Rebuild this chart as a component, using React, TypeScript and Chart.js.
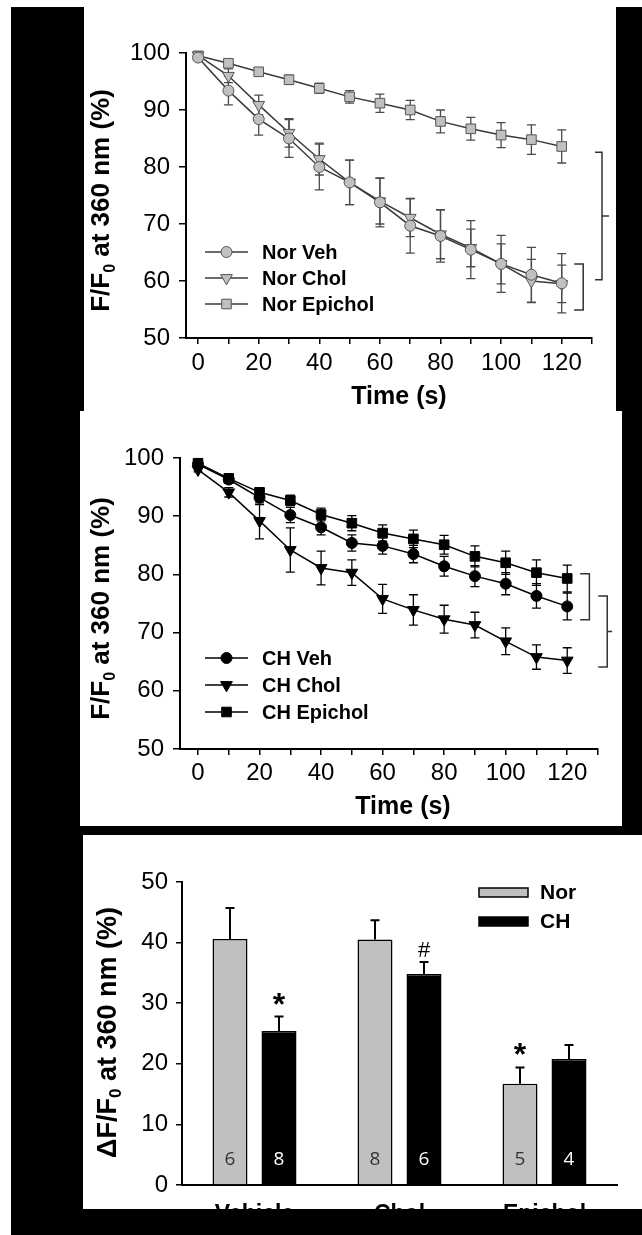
import React, { useEffect, useRef } from "react";
import { Chart, registerables } from "chart.js";

Chart.register(...registerables);

const FONT = "'Liberation Sans', Arial, Helvetica, sans-serif";

// ---------- data ----------
const timeSeconds = [0, 10, 20, 30, 40, 50, 60, 70, 80, 90, 100, 110, 120];
const xTickValues = [0, 10, 20, 30, 40, 50, 60, 70, 80, 90, 100, 110, 120, 130];
const xTickLabels = [0, 20, 40, 60, 80, 100, 120];
const lineYTicks = [50, 60, 70, 80, 90, 100];

const norVeh = [99.2, 93.4, 88.4, 85.0, 80.0, 77.3, 73.8, 69.7, 67.9, 65.5, 63.0, 61.1, 59.6];
const norVehSem = [0.3, 2.5, 2.8, 3.3, 4.0, 3.9, 4.3, 4.8, 4.6, 5.1, 5.0, 4.8, 5.2];
const norChol = [99.6, 96.0, 90.9, 86.0, 81.4, 77.3, 74.0, 71.1, 68.2, 65.8, 63.0, 60.0, 59.5];
const norCholSem = [0.3, 1.2, 1.7, 2.5, 2.8, 3.9, 4.0, 3.3, 4.3, 3.3, 3.5, 3.8, 3.3];
const norEpichol = [99.5, 98.2, 96.7, 95.3, 93.8, 92.3, 91.2, 90.0, 88.0, 86.7, 85.6, 84.8, 83.6];
const norEpicholSem = [0.3, 0.5, 0.6, 0.8, 0.9, 1.1, 1.6, 1.7, 2.0, 2.0, 2.2, 2.6, 2.9];

const chVeh = [98.9, 96.3, 93.2, 90.2, 88.1, 85.4, 84.9, 83.5, 81.4, 79.7, 78.4, 76.3, 74.5];
const chVehSem = [0.4, 0.6, 1.2, 1.3, 1.3, 1.4, 1.4, 1.5, 1.7, 1.8, 1.9, 2.1, 2.3];
const chChol = [98.0, 94.1, 89.2, 84.2, 81.1, 80.3, 75.8, 73.9, 72.3, 71.3, 68.5, 65.8, 65.2];
const chCholSem = [0.4, 0.8, 3.1, 3.8, 2.9, 2.2, 2.5, 2.6, 2.4, 2.2, 2.3, 2.1, 2.2];
const chEpichol = [99.1, 96.5, 94.1, 92.7, 90.3, 88.8, 87.1, 86.1, 85.1, 83.1, 82.0, 80.3, 79.3];
const chEpicholSem = [0.3, 0.5, 0.7, 0.9, 1.1, 1.3, 1.4, 1.5, 1.6, 1.8, 2.0, 2.2, 2.3];

// brackets in data coordinates: arms from x1 to x2, vertical at x2 from y1 to y2, optional mid tick to tickTo
const norBrackets = [
  { x1: 124.1, x2: 127.1, y1: 63.0, y2: 54.9, tickTo: 0 },
  { x1: 131.0, x2: 133.3, y1: 82.6, y2: 60.2, tickTo: 135.6 },
];
const chBrackets = [
  { x1: 124.2, x2: 127.2, y1: 80.1, y2: 72.2, tickTo: 0 },
  { x1: 130.1, x2: 133.0, y1: 76.3, y2: 64.1, tickTo: 134.6 },
];

const barCategories = ["Vehicle", "Chol", "Epichol"];
const barYTicks = [0, 10, 20, 30, 40, 50];
const barNor = [40.6, 40.5, 16.7];
const barNorSem = [5.1, 3.2, 2.7];
const barCH = [25.4, 34.8, 20.8];
const barCHSem = [2.4, 2.0, 2.3];
const barNorN = [6, 8, 5];
const barCHN = [8, 6, 4];
const barMarks = [
  { series: 1, index: 0, text: "*" },
  { series: 1, index: 1, text: "#" },
  { series: 0, index: 2, text: "*" },
];

const yTitleLine = [{ t: "F/F" }, { t: "0", sub: true }, { t: " at 360 nm (%)" }];
const yTitleBar = [{ t: "\u0394F/F" }, { t: "0", sub: true }, { t: " at 360 nm (%)" }];

// ---------- drawing helpers ----------
function drawMarker(ctx: CanvasRenderingContext2D, style: string, x: number, y: number, r: number) {
  ctx.beginPath();
  if (style === "circle") {
    ctx.arc(x, y, r, 0, Math.PI * 2);
  } else if (style === "rect") {
    const s = r * Math.SQRT1_2;
    ctx.rect(x - s, y - s, 2 * s, 2 * s);
  } else {
    let a = Math.PI;
    ctx.moveTo(x + Math.sin(a) * r, y - Math.cos(a) * r);
    a += (2 * Math.PI) / 3;
    ctx.lineTo(x + Math.sin(a) * r, y - Math.cos(a) * r);
    a += (2 * Math.PI) / 3;
    ctx.lineTo(x + Math.sin(a) * r, y - Math.cos(a) * r);
    ctx.closePath();
  }
  ctx.fill();
  ctx.stroke();
}

function drawRotatedTitle(ctx: CanvasRenderingContext2D, parts: any[], cx: number, cy: number, size: number) {
  ctx.save();
  ctx.translate(cx, cy);
  ctx.rotate(-Math.PI / 2);
  ctx.fillStyle = "#000";
  ctx.textBaseline = "alphabetic";
  ctx.textAlign = "left";
  const mainFont = `bold ${size}px ${FONT}`;
  const subFont = `bold ${Math.round(size * 0.62)}px ${FONT}`;
  let total = 0;
  const widths = parts.map((p) => {
    ctx.font = p.sub ? subFont : mainFont;
    const w = ctx.measureText(p.t).width;
    total += w;
    return w;
  });
  let x = -total / 2;
  const base = size * 0.36;
  parts.forEach((p, i) => {
    ctx.font = p.sub ? subFont : mainFont;
    ctx.fillText(p.t, x, p.sub ? base + size * 0.2 : base);
    x += widths[i];
  });
  ctx.restore();
}

const markerRadius: any = { circle: 5.5, rect: 6.8, triangleDown: 6.8 };

function makeLineConfig(L: any) {
  const errorBars = {
    id: "errorBars",
    beforeDatasetsDraw(chart: any) {
      const { ctx } = chart;
      const ys = chart.scales.y;
      chart.data.datasets.forEach((ds: any, di: number) => {
        const meta = chart.getDatasetMeta(di);
        ctx.save();
        ctx.strokeStyle = L.errorColor;
        ctx.lineWidth = 1.3;
        meta.data.forEach((el: any, i: number) => {
          const v = ds.data[i].y;
          const e = ds.errors[i];
          const yt = ys.getPixelForValue(v + e);
          const yb = ys.getPixelForValue(v - e);
          ctx.beginPath();
          ctx.moveTo(el.x, yt);
          ctx.lineTo(el.x, yb);
          ctx.moveTo(el.x - 4.5, yt);
          ctx.lineTo(el.x + 4.5, yt);
          ctx.moveTo(el.x - 4.5, yb);
          ctx.lineTo(el.x + 4.5, yb);
          ctx.stroke();
        });
        ctx.restore();
      });
    },
  };
  const extras = {
    id: "extras",
    afterDraw(chart: any) {
      const { ctx, chartArea } = chart;
      const xs = chart.scales.x;
      const ys = chart.scales.y;
      // axis titles
      drawRotatedTitle(ctx, yTitleLine, L.yTitleX, (chartArea.top + chartArea.bottom) / 2 + L.yTitleDy, 26);
      ctx.save();
      ctx.font = `bold 25px ${FONT}`;
      ctx.fillStyle = "#000";
      ctx.textAlign = "center";
      ctx.textBaseline = "middle";
      ctx.fillText("Time (s)", (chartArea.left + chartArea.right) / 2 + L.xTitleDx, L.xTitleY);
      ctx.restore();
      // legend
      L.series.forEach((s: any, i: number) => {
        const y = L.legendRows[i];
        ctx.save();
        ctx.strokeStyle = L.lineColor;
        ctx.lineWidth = 1.5;
        ctx.beginPath();
        ctx.moveTo(L.legendX0, y);
        ctx.lineTo(L.legendX1, y);
        ctx.stroke();
        ctx.fillStyle = L.markerFill;
        ctx.strokeStyle = L.markerStroke;
        ctx.lineWidth = 1;
        drawMarker(ctx, s.marker, (L.legendX0 + L.legendX1) / 2, y, markerRadius[s.marker]);
        ctx.font = `bold 20px ${FONT}`;
        ctx.fillStyle = "#000";
        ctx.textAlign = "left";
        ctx.textBaseline = "middle";
        ctx.fillText(s.label, L.legendTextX, y + 1);
        ctx.restore();
      });
      // brackets
      ctx.save();
      ctx.strokeStyle = "#333";
      ctx.lineWidth = 1.5;
      L.brackets.forEach((b: any) => {
        const xa = xs.getPixelForValue(b.x1);
        const xb = xs.getPixelForValue(b.x2);
        const ya = ys.getPixelForValue(b.y1);
        const yb = ys.getPixelForValue(b.y2);
        ctx.beginPath();
        ctx.moveTo(xa, ya);
        ctx.lineTo(xb, ya);
        ctx.lineTo(xb, yb);
        ctx.lineTo(xa, yb);
        if (b.tickTo) {
          const ym = (ya + yb) / 2;
          ctx.moveTo(xb, ym);
          ctx.lineTo(xs.getPixelForValue(b.tickTo), ym);
        }
        ctx.stroke();
      });
      ctx.restore();
    },
  };

  return {
    type: "line",
    data: {
      datasets: L.series.map((s: any) => ({
        label: s.label,
        data: timeSeconds.map((t, i) => ({ x: t, y: s.values[i] })),
        errors: s.errors,
        borderColor: L.lineColor,
        borderWidth: 1.5,
        pointStyle: s.marker === "triangleDown" ? "triangle" : s.marker,
        pointRotation: s.marker === "triangleDown" ? 180 : 0,
        pointRadius: markerRadius[s.marker],
        pointHoverRadius: markerRadius[s.marker],
        pointBackgroundColor: L.markerFill,
        pointBorderColor: L.markerStroke,
        pointBorderWidth: 1,
        clip: false,
        tension: 0,
        fill: false,
      })),
    },
    options: {
      responsive: false,
      animation: false,
      devicePixelRatio: 1,
      events: [],
      layout: { padding: { top: L.area.top, right: L.width - L.area.right, left: 0, bottom: 0 } },
      plugins: { legend: { display: false }, tooltip: { enabled: false } },
      scales: {
        x: {
          type: "linear",
          min: L.xMin,
          max: 130,
          afterBuildTicks: (s: any) => {
            s.ticks = xTickValues.map((v) => ({ value: v }));
          },
          afterFit: (s: any) => {
            s.height = L.height - L.area.bottom;
          },
          ticks: {
            autoSkip: false,
            maxRotation: 0,
            padding: L.xTickPad,
            color: "#000",
            font: { family: FONT, size: 24 },
            callback: (v: any) => (xTickLabels.includes(v) ? String(v) : ""),
          },
          grid: { display: true, drawOnChartArea: false, drawTicks: true, tickLength: 6, color: "#000", lineWidth: 1.5 },
          border: { display: true, color: "#000", width: 2 },
        },
        y: {
          type: "linear",
          min: 50,
          max: 100,
          afterBuildTicks: (s: any) => {
            s.ticks = lineYTicks.map((v) => ({ value: v }));
          },
          afterFit: (s: any) => {
            s.width = L.area.left;
          },
          ticks: { padding: 9, color: "#000", font: { family: FONT, size: 24 } },
          grid: { display: true, drawOnChartArea: false, drawTicks: true, tickLength: 7, color: "#000", lineWidth: 1.5 },
          border: { display: true, color: "#000", width: 2 },
        },
      },
    },
    plugins: [errorBars, extras],
  };
}

function makeBarConfig(B: any) {
  const extras = {
    id: "barExtras",
    afterDatasetsDraw(chart: any) {
      const { ctx } = chart;
      const ys = chart.scales.y;
      chart.data.datasets.forEach((ds: any, di: number) => {
        const meta = chart.getDatasetMeta(di);
        meta.data.forEach((el: any, i: number) => {
          const v = ds.data[i];
          const yt = ys.getPixelForValue(v + ds.errors[i]);
          const y0 = ys.getPixelForValue(v);
          ctx.save();
          ctx.strokeStyle = "#000";
          ctx.lineWidth = 2;
          ctx.beginPath();
          ctx.moveTo(el.x, y0);
          ctx.lineTo(el.x, yt);
          ctx.moveTo(el.x - 4.5, yt);
          ctx.lineTo(el.x + 4.5, yt);
          ctx.stroke();
          // n labels
          ctx.font = `19px 'Open Sans', ${FONT}`;
          ctx.fillStyle = ds.countColor;
          ctx.textAlign = "center";
          ctx.textBaseline = "middle";
          ctx.fillText(String(ds.counts[i]), el.x, ys.getPixelForValue(0) - 25);
          ctx.restore();
        });
      });
      // significance marks
      barMarks.forEach((m) => {
        const ds: any = chart.data.datasets[m.series];
        const el = chart.getDatasetMeta(m.series).data[m.index];
        const yt = ys.getPixelForValue(ds.data[m.index] + ds.errors[m.index]);
        ctx.save();
        ctx.fillStyle = "#000";
        ctx.textAlign = "center";
        ctx.textBaseline = "alphabetic";
        if (m.text === "*") {
          ctx.font = `bold 32px ${FONT}`;
          ctx.fillText(m.text, el.x, yt - 2);
        } else {
          ctx.font = `22px ${FONT}`;
          ctx.fillText(m.text, el.x, yt - 5);
        }
        ctx.restore();
      });
    },
    afterDraw(chart: any) {
      const { ctx, chartArea } = chart;
      drawRotatedTitle(ctx, yTitleBar, B.yTitleX, (chartArea.top + chartArea.bottom) / 2 + B.yTitleDy, 27);
      // legend
      chart.data.datasets.forEach((ds: any, i: number) => {
        const y = B.legendRows[i];
        ctx.save();
        ctx.fillStyle = ds.backgroundColor;
        ctx.strokeStyle = "#000";
        ctx.lineWidth = 1.5;
        ctx.fillRect(B.legendX0, y - 4.5, B.legendW, 9);
        ctx.strokeRect(B.legendX0, y - 4.5, B.legendW, 9);
        ctx.font = `bold 21px ${FONT}`;
        ctx.fillStyle = "#000";
        ctx.textAlign = "left";
        ctx.textBaseline = "middle";
        ctx.fillText(ds.label, B.legendTextX, y + 1);
        ctx.restore();
      });
    },
  };
  const common = { borderColor: "#000", borderWidth: 1.5, categoryPercentage: 0.676, barPercentage: 0.714 };
  return {
    type: "bar",
    data: {
      labels: barCategories,
      datasets: [
        { label: "Nor", data: barNor, errors: barNorSem, counts: barNorN, backgroundColor: "#c0c0c0", countColor: "#333", ...common },
        { label: "CH", data: barCH, errors: barCHSem, counts: barCHN, backgroundColor: "#000", countColor: "#fff", ...common },
      ],
    },
    options: {
      responsive: false,
      animation: false,
      devicePixelRatio: 1,
      events: [],
      layout: { padding: { top: B.area.top, right: B.width - B.area.right, left: 0, bottom: 0 } },
      plugins: { legend: { display: false }, tooltip: { enabled: false } },
      scales: {
        x: {
          afterFit: (s: any) => {
            s.height = B.height - B.area.bottom;
          },
          ticks: { padding: 8, color: "#000", font: { family: FONT, size: 23, weight: "bold" } },
          grid: { display: false },
          border: { display: true, color: "#000", width: 2 },
        },
        y: {
          min: 0,
          max: 50,
          afterBuildTicks: (s: any) => {
            s.ticks = barYTicks.map((v) => ({ value: v }));
          },
          afterFit: (s: any) => {
            s.width = B.area.left;
          },
          ticks: { padding: 8, color: "#000", font: { family: FONT, size: 24 } },
          grid: { display: true, drawOnChartArea: false, drawTicks: true, tickLength: 6, color: "#000", lineWidth: 1.5 },
          border: { display: true, color: "#000", width: 2 },
        },
      },
    },
    plugins: [extras],
  };
}

// ---------- layouts ----------
const norLayout = {
  left: 84, top: 0, width: 532, height: 411,
  area: { left: 102, top: 53, right: 508, bottom: 338 },
  xMin: -4, xTickPad: 5,
  yTitleX: 16, yTitleDy: 5, xTitleDx: 10, xTitleY: 397,
  legendX0: 121, legendX1: 164, legendTextX: 178, legendRows: [252, 278, 304],
  lineColor: "#3a3a3a", markerFill: "#c0c0c0", markerStroke: "#555", errorColor: "#4a4a4a",
  brackets: norBrackets,
  series: [
    { label: "Nor Veh", values: norVeh, errors: norVehSem, marker: "circle" },
    { label: "Nor Chol", values: norChol, errors: norCholSem, marker: "triangleDown" },
    { label: "Nor Epichol", values: norEpichol, errors: norEpicholSem, marker: "rect" },
  ],
};

const chLayout = {
  left: 80, top: 411, width: 542, height: 415,
  area: { left: 100, top: 47, right: 518, bottom: 338 },
  xMin: -5.85, xTickPad: 4,
  yTitleX: 20, yTitleDy: 5, xTitleDx: 14, xTitleY: 396,
  legendX0: 125, legendX1: 168, legendTextX: 182, legendRows: [247, 274, 301],
  lineColor: "#000", markerFill: "#000", markerStroke: "#000", errorColor: "#000",
  brackets: chBrackets,
  series: [
    { label: "CH Veh", values: chVeh, errors: chVehSem, marker: "circle" },
    { label: "CH Chol", values: chChol, errors: chCholSem, marker: "triangleDown" },
    { label: "CH Epichol", values: chEpichol, errors: chEpicholSem, marker: "rect" },
  ],
};

const barLayout = {
  left: 83, top: 835, width: 559, height: 374,
  area: { left: 99, top: 47, right: 534, bottom: 350 },
  yTitleX: 23, yTitleDy: -1,
  legendX0: 396, legendW: 49, legendTextX: 457, legendRows: [57.5, 86.5],
};

function ChartPanel({ layout, build }: { layout: any; build: (l: any) => any }) {
  const ref = useRef<HTMLCanvasElement | null>(null);
  useEffect(() => {
    if (!ref.current) return;
    const chart = new Chart(ref.current, build(layout));
    return () => chart.destroy();
  }, [layout, build]);
  return (
    <div
      style={{
        position: "absolute",
        left: layout.left,
        top: layout.top,
        width: layout.width,
        height: layout.height,
        background: "#fff",
        overflow: "hidden",
      }}
    >
      <canvas ref={ref} width={layout.width} height={layout.height} style={{ display: "block" }} />
    </div>
  );
}

export default function App() {
  return (
    <div style={{ position: "absolute", left: 0, top: 0, width: 642, height: 1235, background: "#fff", overflow: "hidden" }}>
      <div style={{ position: "absolute", left: 11, top: 7, width: 631, height: 1228, background: "#000" }} />
      <ChartPanel layout={norLayout} build={makeLineConfig} />
      <ChartPanel layout={chLayout} build={makeLineConfig} />
      <ChartPanel layout={barLayout} build={makeBarConfig} />
    </div>
  );
}
